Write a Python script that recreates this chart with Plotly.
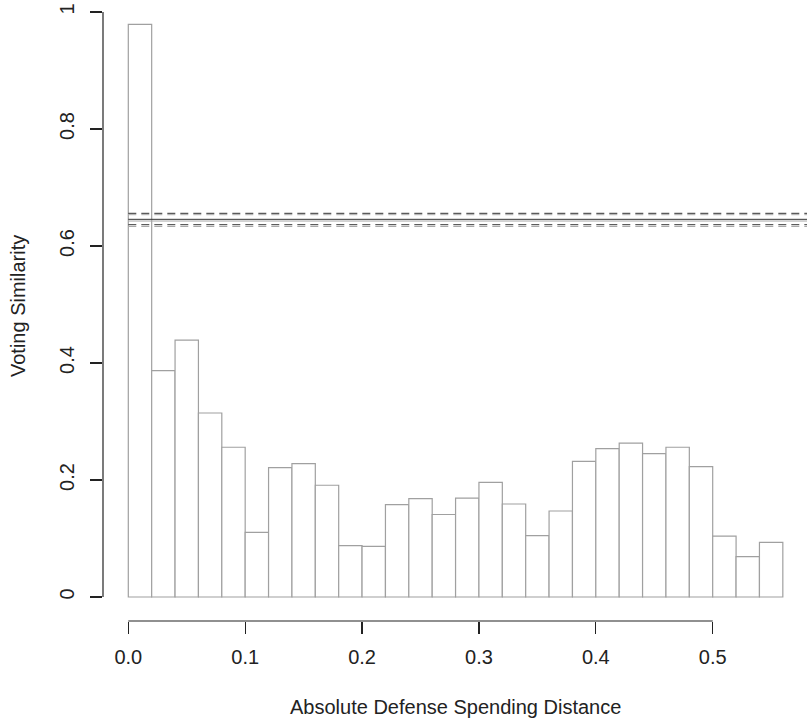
import plotly.graph_objects as go

# ---- data ----
bin_width = 0.02
bin_left = [round(i * bin_width, 2) for i in range(28)]
similarity = [0.979, 0.387, 0.439, 0.3145, 0.256, 0.1105, 0.221, 0.228, 0.191, 0.0877,
              0.0866, 0.158, 0.168, 0.141, 0.169, 0.196, 0.159, 0.105, 0.147, 0.232,
              0.2535, 0.263, 0.245, 0.256, 0.223, 0.104, 0.069, 0.0935]

# reference levels: (mean, lower, upper) for two estimates
dark_mean, dark_lo, dark_hi = 0.6456, 0.6364, 0.6559
gray_mean, gray_lo, gray_hi = 0.6427, 0.6333, 0.6535

x_ticks = [0.0, 0.1, 0.2, 0.3, 0.4, 0.5]
x_tick_labels = ["0.0", "0.1", "0.2", "0.3", "0.4", "0.5"]
y_ticks = [0, 0.2, 0.4, 0.6, 0.8, 1.0]
y_tick_labels = ["0", "0.2", "0.4", "0.6", "0.8", "1"]

x_title = "Absolute Defense Spending Distance"
y_title = "Voting Similarity"

# ---- figure ----
W, H = 807, 719
ML, MR, MT, MB = 103, 0, 5, 98
x_range = [-0.02165, 0.58068]
y_range = [-0.04103, 1.01197]

FONT = "Liberation Sans, Arial, Helvetica, sans-serif"
BAR_LINE = "#a0a0a0"
DARK = "#333333"
GRAY = "#a8a8a8"

fig = go.Figure()

fig.add_trace(go.Bar(
    x=[b + bin_width / 2 for b in bin_left],
    y=similarity,
    width=bin_width,
    marker=dict(color="white", line=dict(color=BAR_LINE, width=1.2)),
    hoverinfo="skip",
))

x_line = [0, x_range[1] + 0.05]
dash = "8px,5px"
for level, color, d in [
    (gray_hi, GRAY, dash), (gray_lo, GRAY, dash), (gray_mean, GRAY, "solid"),
    (dark_hi, DARK, dash), (dark_lo, DARK, dash), (dark_mean, DARK, "solid"),
]:
    fig.add_trace(go.Scatter(
        x=x_line, y=[level, level], mode="lines",
        line=dict(color=color, width=1, dash=d),
        hoverinfo="skip", cliponaxis=True,
    ))

# axis lines spanning only the tick range (R style)
fig.add_shape(type="line", xref="x", yref="paper",
              x0=x_ticks[0], x1=x_ticks[-1], y0=0, y1=0,
              line=dict(color="#222222", width=1.2))
fig.add_shape(type="line", xref="paper", yref="y",
              x0=0, x1=0, y0=y_ticks[0], y1=y_ticks[-1],
              line=dict(color="#222222", width=1.2))

fig.update_layout(
    width=W, height=H,
    margin=dict(l=ML, r=MR, t=MT, b=MB, autoexpand=False),
    plot_bgcolor="white", paper_bgcolor="white",
    showlegend=False,
    bargap=0,
    font=dict(family=FONT, size=20, color="#222222"),
    xaxis=dict(
        range=x_range, showgrid=False, zeroline=False, showline=False,
        tickmode="array", tickvals=x_ticks, ticktext=x_tick_labels,
        ticks="outside", ticklen=12, tickwidth=1.2, tickcolor="#222222",
        ticklabelstandoff=6,
        tickfont=dict(family=FONT, size=20, color="#222222"),
    ),
    yaxis=dict(
        range=y_range, showgrid=False, zeroline=False, showline=False,
        tickmode="array", tickvals=y_ticks, ticktext=y_tick_labels,
        ticks="outside", ticklen=12, tickwidth=1.2, tickcolor="#222222",
        tickangle=-90, ticklabelstandoff=8,
        tickfont=dict(family=FONT, size=20, color="#222222"),
    ),
    annotations=[
        dict(text=x_title, xref="paper", yref="paper", x=0.5, y=-(707 - (H - MB)) / (H - MT - MB),
             showarrow=False, xanchor="center", yanchor="middle",
             font=dict(family=FONT, size=20, color="#222222")),
        dict(text=y_title, xref="paper", yref="paper", x=-(ML - 18) / (W - ML - MR),
             y=(H - MB - 306) / (H - MT - MB), textangle=-90,
             showarrow=False, xanchor="center", yanchor="middle",
             font=dict(family=FONT, size=20, color="#222222")),
    ],
)

fig.write_html(
    "out.html",
    config={"displayModeBar": False, "staticPlot": True},
    post_script="document.body.style.margin='0';document.body.style.overflow='hidden';",
)
